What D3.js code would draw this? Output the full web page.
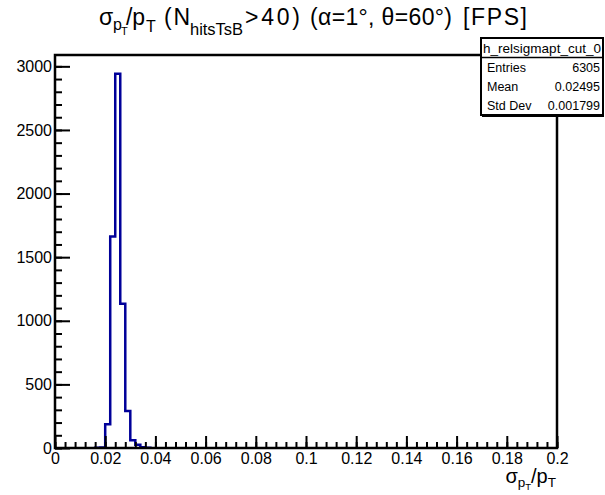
<!DOCTYPE html>
<html>
<head>
<meta charset="utf-8">
<script src="https://cdn.jsdelivr.net/npm/d3@7"></script>
<style>
  body { margin: 0; background: #fff; }
  svg { display: block; font-family: "Liberation Sans", Arial, Helvetica, sans-serif; }
</style>
</head>
<body>
<script>
// histogram h_relsigmapt_cut_0, bin width 0.002
const binLow = [0.016, 0.018, 0.020, 0.022, 0.024, 0.026, 0.028, 0.030, 0.032, 0.034, 0.036];
const binCounts = [1, 4, 186, 1662, 2942, 1133, 290, 60, 25, 6, 2];
const binWidth = 0.002;

const xTicks = [0, 0.02, 0.04, 0.06, 0.08, 0.1, 0.12, 0.14, 0.16, 0.18, 0.2];
const xTickLabels = ["0", "0.02", "0.04", "0.06", "0.08", "0.1", "0.12", "0.14", "0.16", "0.18", "0.2"];
const yTicks = [0, 500, 1000, 1500, 2000, 2500, 3000];

const statsName = "h_relsigmapt_cut_0";
const statsRows = [["Entries", "6305"], ["Mean", "0.02495"], ["Std Dev", "0.001799"]];

const width = 605, height = 495;
const frame = { left: 55, right: 557, top: 55, bottom: 448 };

const svg = d3.select("body").append("svg")
  .attr("width", width)
  .attr("height", height);

const x = d3.scaleLinear().domain([0, 0.2]).range([frame.left, frame.right]);
const y = d3.scaleLinear().domain([0, 1.05 * d3.max(binCounts)]).range([frame.bottom, frame.top]);

// histogram outline (step)
const pts = [[binLow[0], 0]];
binLow.forEach((lo, i) => pts.push([lo, binCounts[i]]));
pts.push([binLow[binLow.length - 1] + binWidth, 0]);

const line = d3.line()
  .x(d => x(d[0]))
  .y(d => y(d[1]))
  .curve(d3.curveStepAfter);

svg.append("path")
  .datum(pts)
  .attr("fill", "none")
  .attr("stroke", "#000099")
  .attr("stroke-width", 2.5)
  .attr("d", line);

// frame
svg.append("rect")
  .attr("x", frame.left).attr("y", frame.top)
  .attr("width", frame.right - frame.left)
  .attr("height", frame.bottom - frame.top)
  .attr("fill", "none")
  .attr("stroke", "#000")
  .attr("stroke-width", 2.5);

// y axis
const yMinor = d3.range(0, 3001, 100);
svg.append("g")
  .attr("transform", `translate(${frame.left},0)`)
  .call(d3.axisLeft(y).tickValues(yMinor).tickSize(-7).tickFormat(""))
  .call(g => g.select(".domain").remove())
  .call(g => g.selectAll("line").attr("stroke-width", 2));

svg.append("g")
  .attr("transform", `translate(${frame.left},0)`)
  .call(d3.axisLeft(y).tickValues(yTicks).tickSize(-15).tickPadding(3).tickFormat(d3.format("d")))
  .call(g => g.select(".domain").remove())
  .call(g => g.selectAll("line").attr("stroke-width", 2))
  .call(g => g.selectAll("text").attr("font-size", 16).attr("font-family", "Liberation Sans, Arial, sans-serif").attr("fill", "#000"));

// x axis
const xMinor = d3.range(0, 51).map(i => i * 0.004);
svg.append("g")
  .attr("transform", `translate(0,${frame.bottom})`)
  .call(d3.axisBottom(x).tickValues(xMinor).tickSize(-6).tickFormat(""))
  .call(g => g.select(".domain").remove())
  .call(g => g.selectAll("line").attr("stroke-width", 2));

svg.append("g")
  .attr("transform", `translate(0,${frame.bottom})`)
  .call(d3.axisBottom(x).tickValues(xTicks).tickSize(-12).tickPadding(5)
    .tickFormat((d, i) => xTickLabels[i]))
  .call(g => g.select(".domain").remove())
  .call(g => g.selectAll("line").attr("stroke-width", 2))
  .call(g => g.selectAll("text").attr("font-size", 16).attr("font-family", "Liberation Sans, Arial, sans-serif").attr("fill", "#000"));

// title, ROOT latex-ish layout
const title = svg.append("text")
  .attr("y", 25)
  .attr("font-size", 23);
title.append("tspan").attr("x", 99).text("σ");
title.append("tspan").attr("x", 113).attr("font-size", 16).attr("dy", 5).text("p");
title.append("tspan").attr("x", 121).attr("font-size", 11).attr("dy", 5).text("T");
title.append("tspan").attr("x", 126).attr("dy", -10).attr("textLength", 19).text("/p");
title.append("tspan").attr("x", 146).attr("font-size", 16).attr("dy", 7).text("T");
title.append("tspan").attr("x", 164).attr("dy", -7).attr("textLength", 26).text("(N");
title.append("tspan").attr("x", 190).attr("font-size", 16.5).attr("dy", 10).attr("textLength", 53).text("hitsTsB");
title.append("tspan").attr("x", 245).attr("dy", -10).attr("textLength", 55).text(">40)");
title.append("tspan").attr("x", 310).attr("textLength", 142).text("(α=1°, θ=60°)");
title.append("tspan").attr("x", 463).attr("textLength", 64).text("[FPS]");

// x axis title
const xt = svg.append("text")
  .attr("x", 556).attr("y", 483)
  .attr("text-anchor", "end")
  .attr("font-size", 20);
xt.append("tspan").text("σ");
xt.append("tspan").attr("font-size", 13.5).attr("dy", 4).text("p");
xt.append("tspan").attr("font-size", 9.5).attr("dy", 3).text("T");
xt.append("tspan").attr("dy", -7).text("/p");
xt.append("tspan").attr("font-size", 13.5).attr("dy", 4).text("T");

// stats box
const box = { x: 481, y: 38, w: 122, h: 77, head: 19.5 };
const sg = svg.append("g");
sg.append("rect")
  .attr("x", box.x).attr("y", box.y)
  .attr("width", box.w).attr("height", box.h)
  .attr("fill", "#fff").attr("stroke", "#000").attr("stroke-width", 2);
sg.append("line")
  .attr("x1", box.x + 1).attr("x2", box.x + box.w + 1)
  .attr("y1", box.y + box.h + 1).attr("y2", box.y + box.h + 1)
  .attr("stroke", "#000").attr("stroke-width", 2);
sg.append("line")
  .attr("x1", box.x).attr("x2", box.x + box.w)
  .attr("y1", box.y + box.head).attr("y2", box.y + box.head)
  .attr("stroke", "#000").attr("stroke-width", 1.5);
sg.append("text")
  .attr("x", box.x + box.w / 2).attr("y", box.y + 15)
  .attr("text-anchor", "middle")
  .attr("font-size", 13.5)
  .attr("textLength", 118)
  .text(statsName);
statsRows.forEach((r, i) => {
  const yy = 71.5 + i * 19.3;
  sg.append("text").attr("x", box.x + 6).attr("y", yy).attr("font-size", 12.5).text(r[0]);
  sg.append("text").attr("x", box.x + box.w - 3).attr("y", yy).attr("font-size", 12.5)
    .attr("text-anchor", "end").text(r[1]);
});
</script>
</body>
</html>
